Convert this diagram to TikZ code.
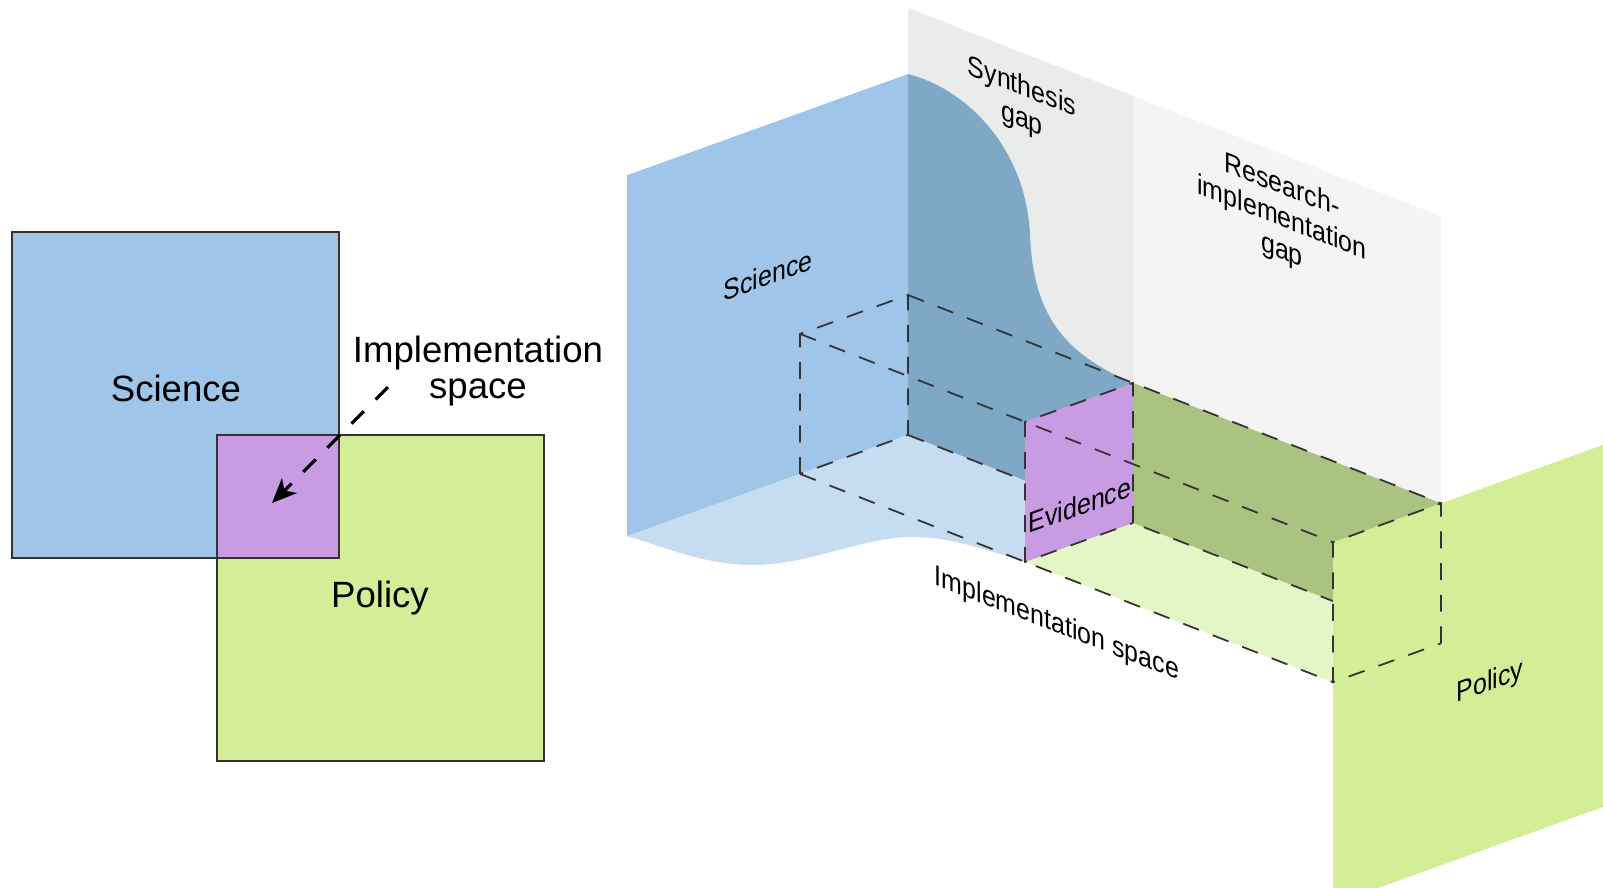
\documentclass[tikz,border=0pt]{standalone}
\usepackage{fontspec}
\setmainfont{Liberation Sans}
\usetikzlibrary{arrows.meta}

\definecolor{sciblue}{HTML}{9FC5E8}
\definecolor{scidark}{HTML}{7FA7C6}
\definecolor{scifloor}{HTML}{C6DDF1}
\definecolor{polgreen}{HTML}{D3EE96}
\definecolor{boxgreen}{HTML}{ABC380}
\definecolor{floorgreen}{HTML}{E4F5C6}
\definecolor{evpurple}{HTML}{C99BE2}
\definecolor{gapgrey}{HTML}{EAEBEB}
\definecolor{gapgreyl}{HTML}{F4F4F4}

\begin{document}
\begin{tikzpicture}[x=0.01cm, y=-0.01cm,
  biglbl/.style={font=\fontsize{10.4}{10}\selectfont, inner sep=0pt},
  lbl/.style={font=\fontsize{7.1}{8}\selectfont, inner sep=0pt, align=center},
  boxline/.style={draw=black!80, line width=0.4pt},
  hid/.style={draw=black!80, line width=0.5pt, dash pattern=on 4.8pt off 4.2pt},
  iso/.style={shift={(908,435)}, x={(0.01cm,-0.0039cm)}, y={(-0.01cm,-0.0036cm)}, z={(0cm,0.01cm)}}]
  \useasboundingbox (0,0) rectangle (1603,887);
  \clip (0,0) rectangle (1603,887);

  % flat view
  \fill[sciblue] (12,232) rectangle (339,558);
  \fill[polgreen] (217,435) rectangle (544,761);
  \fill[evpurple] (217,435) rectangle (339,558);
  \draw[boxline] (12,232) rectangle (339,558);
  \draw[boxline] (217,435) rectangle (544,761);
  \node[biglbl, anchor=base] (sci) at (176,401) {Science};
  \node[biglbl, anchor=base] (pol) at (380,607) {Policy};
  \node[biglbl, align=center] (impl) at (478,371) {Implementation\\space};
  \coordinate (arrfrom) at (388,387);
  \coordinate (arrto) at (272,503);
  \draw[line width=0.9pt, dash pattern=on 5pt off 4.7pt, -{Stealth[length=7pt,width=6pt,inset=2pt]}] (arrfrom) -- (arrto);

  % corner view: walls
  \begin{scope}[iso]
    \fill[gapgrey] (0,0,0) -- (0,0,427) -- (225,0,427) -- (225,0,0) -- cycle;
    \fill[gapgreyl] (225,0,0) -- (225,0,427) -- (533,0,427) -- (533,0,0) -- cycle;
    \fill[scidark] (0,0,0) -- (0,0,361) .. controls (62,0,369) and (118,0,330) .. (122,0,248)
      .. controls (125,0,170) and (155,0,142) .. (225,0,140) -- (225,0,0) -- cycle;
    \fill[sciblue] (0,0,0) -- (0,0,361) -- (0,281,361) -- (0,281,0) -- cycle;
    \coordinate (fl0) at (0,281,0);
    \coordinate (fl1) at (0,0,0);
    \coordinate (fl2) at (225,0,0);
    \coordinate (fl3) at (225,108,0);
  \end{scope}
  \fill[scifloor] (fl0) -- (fl1) -- (fl2) -- (fl3) .. controls (980,548) and (940,533) .. (895,538)
    .. controls (850,543) and (800,566) .. (750,565) .. controls (700,564) and (660,545) .. (fl0);

  % corner view: evidence box
  \begin{scope}[iso]
    \fill[floorgreen] (225,108,0) -- (225,0,0) -- (533,0,0) -- (533,108,0) -- cycle;
    \fill[boxgreen] (225,0,0) -- (225,0,140) -- (533,0,140) -- (533,0,0) -- cycle
      (225,0,140) -- (533,0,140) -- (533,108,140) -- (225,108,140) -- cycle;
    \draw[hid] (0,0,0) -- (533,0,0);
    \fill[evpurple] (225,0,0) -- (225,0,140) -- (225,108,140) -- (225,108,0) -- cycle;
    \draw[hid] (0,108,0) -- (0,108,140) -- (0,0,140) -- (0,0,0) -- cycle;
    \foreach \b/\h in {0/140, 108/140, 108/0}
      \draw[hid] (0,\b,\h) -- (533,\b,\h);
    \draw[hid] (225,0,0) -- (225,0,140) -- (225,108,140) -- (225,108,0) -- cycle;
    \fill[polgreen] (533,108,140) -- (533,-180,140) -- (533,-180,-222) -- (533,108,-222) -- cycle;
    \draw[hid] (533,0,0) -- (533,0,140) -- (533,108,140) -- (533,108,0) -- cycle;
  \end{scope}

  \node[lbl, yslant=0.36, yscale=1.15] (scilbl) at (768,275) {Science};
  \node[lbl, yslant=-0.39, yscale=1.15] (synlbl) at (1022,104) {Synthesis\\gap};
  \node[lbl, yslant=-0.39, yscale=1.15] (rilbl) at (1282,219) {Research-\\implementation\\gap};
  \node[lbl, yslant=0.36, yscale=1.15] (evlbl) at (1080,505) {Evidence};
  \node[lbl, yslant=-0.39, yscale=1.15] (isplbl) at (1057,625) {Implementation space};
  \node[lbl, yslant=0.36, yscale=1.15] (pollbl) at (1490,683) {Policy};
\end{tikzpicture}
\end{document}
